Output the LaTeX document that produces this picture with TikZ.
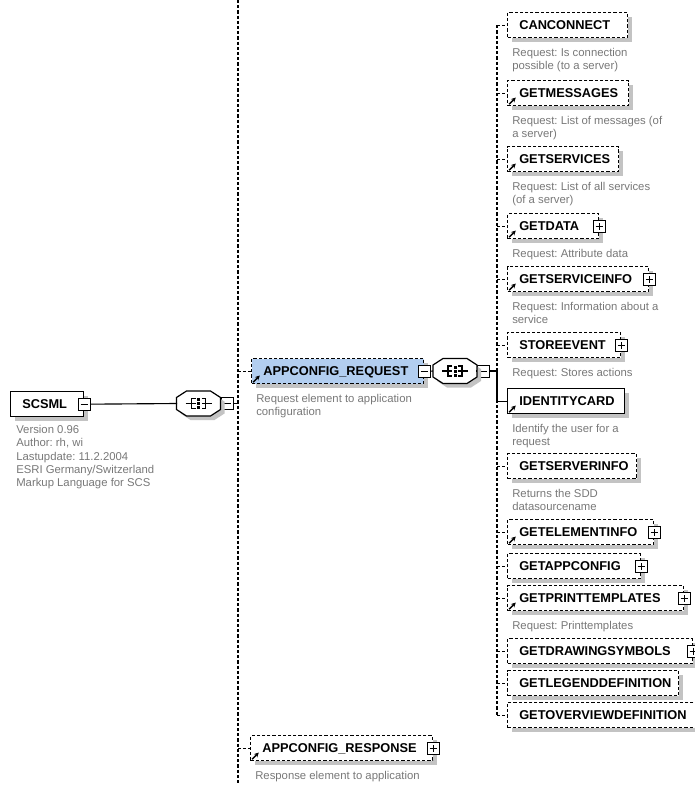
\documentclass[tikz,border=0pt]{standalone}
\usepackage{fontspec}
\setmainfont{Liberation Sans}
\usetikzlibrary{shadows,arrows.meta}
\frenchspacing

\definecolor{descgray}{RGB}{120,120,120}
\definecolor{selblue}{RGB}{178,206,240}
\definecolor{shadowgray}{RGB}{195,195,195}

\tikzset{
  dsh/.style={dash pattern=on 2.4pt off 1.5pt},
  elembox/.style={draw, fill=white, line width=1pt, anchor=north west, inner sep=0pt,
    minimum height=18.75pt,
    general shadow={fill=shadowgray, shadow xshift=3pt, shadow yshift=-3pt}},
  optbox/.style={elembox, dsh},
  ename/.style={anchor=base west, inner sep=0pt, font=\fontsize{9.6}{11}\selectfont\bfseries},
  desc/.style={anchor=north west, inner sep=0pt, align=left, text=descgray,
    font=\fontsize{8.5}{10}\selectfont},
  pmbox/.style={draw, fill=white, line width=0.75pt, minimum size=9pt, inner sep=0pt},
  minusbox/.style={pmbox, path picture={\draw[line width=0.75pt]
    ([xshift=1.8pt]path picture bounding box.west) -- ([xshift=-1.8pt]path picture bounding box.east);}},
  plusbox/.style={pmbox, path picture={\draw[line width=0.75pt]
    ([xshift=1.8pt]path picture bounding box.west) -- ([xshift=-1.8pt]path picture bounding box.east)
    ([yshift=1.8pt]path picture bounding box.south) -- ([yshift=-1.8pt]path picture bounding box.north);}},
  conn/.style={line width=0.85pt},
  refarrow/.style={-{Stealth[length=3.5pt,width=3.5pt]}, line width=1pt},
  seqnode/.style={draw=none, minimum width=31.5pt, minimum height=18pt, inner sep=0pt},
}

% element box: name, x, y(top), width(px), style, label
\newcommand\xelem[6]{%
  \node[#5, minimum width=#4*0.75pt] (#1) at (#2,#3) {};
  \node[ename] (#1-n) at ([xshift=9pt,yshift=-3.5pt]#1.west) {#6};
}
\newcommand\xdesc[2]{%
  \node[desc] (#1-d) at ([xshift=3.75pt,yshift=-7.3pt]#1.south west) {#2};
}
\newcommand\xarrow[1]{%
  \draw[refarrow] ([shift={(1.6pt,1.6pt)}]#1.south west) -- ++(5pt,5pt);
}
% sequence compositor drawn around node #1
\newcommand\xseq[1]{%
  \begin{scope}[shift={(#1.center)}]
    \fill[shadowgray, shift={(3pt,-3pt)}] (-22,-6) -- (-12,-12.5) -- (12,-12.5) -- (22,-6) -- (22,6) -- (12,12.5) -- (-12,12.5) -- (-22,6) -- cycle;
    \draw[fill=white, line width=0.9pt] (-22,-6) -- (-12,-12.5) -- (12,-12.5) -- (22,-6) -- (22,6) -- (12,12.5) -- (-12,12.5) -- (-22,6) -- cycle;
    \draw[line width=0.85pt] (-13,0) -- (-7,0) (-3,-5) -- (-7,-5) -- (-7,5) -- (-3,5) (-7,0) -- (-3,0);
    \draw[line width=0.85pt] (13,0) -- (7,0) (3,-5) -- (7,-5) -- (7,5) -- (3,5) (7,0) -- (3,0);
    \fill (-1.5,-5.5) rectangle (1.5,-2.5);
    \fill (-1.5,-1.5) rectangle (1.5,1.5);
    \fill (-1.5,2.5) rectangle (1.5,5.5);
  \end{scope}
}

\begin{document}
\begin{tikzpicture}[x=0.75pt, y=-0.75pt]
\useasboundingbox (0,0) rectangle (694,785);

% guide coordinates for the vertical connector lines
\coordinate (lv) at (238,0);
\coordinate (lvb) at (238,785);
\coordinate (rv) at (497,0);

% ---------- root ----------
\xelem{scsml}{10}{391}{73}{elembox}{SCSML}
\node[minusbox] (m0) at (scsml.east) {};
\node[desc] (scsml-d) at (16,425) {Version 0.96\\Author: rh, wi\\Lastupdate: 11.2.2004\\ESRI Germany/Switzerland\\Markup Language for SCS};
\node[seqnode] (seq1) at (198.5,403.5) {};
\node[minusbox] (m1) at (227.5,403.5) {};
\xseq{seq1}
\draw[conn] (m0.east) -- (seq1.west);
\draw[conn] (seq1.east) -- (m1.west);
\draw[conn] (m1.east) -- (lv |- m1.east);

% left vertical choice line
\draw[conn, dsh] (lv) -- (lvb);

% ---------- APPCONFIG_REQUEST ----------
\xelem{req}{251}{358}{172}{optbox, fill=selblue}{APPCONFIG\_REQUEST}
\xarrow{req}
\node[minusbox] (m2) at (req.east) {};
\xdesc{req}{Request element to application\\configuration}
\draw[conn, dsh] (lv |- req.west) -- (req.west);
\node[seqnode] (seq2) at (455,371) {};
\node[minusbox] (m3) at (483,371) {};
\draw[conn] (m2.east) -- (seq2.west);
\xseq{seq2}
\draw[conn] (seq2.east) -- (m3.west);

% ---------- APPCONFIG_RESPONSE ----------
\xelem{resp}{250}{735}{182}{optbox}{APPCONFIG\_RESPONSE}
\xarrow{resp}
\node[plusbox] (p0) at (resp.east) {};
\xdesc{resp}{Response element to application}
\draw[conn, dsh] (lv |- resp.west) -- (resp.west);

% ---------- children of the sequence ----------
\xelem{c1}{507}{12}{120}{optbox}{CANCONNECT}
\xdesc{c1}{Request: Is connection\\possible (to a server)}

\xelem{c2}{507}{80}{121}{optbox}{GETMESSAGES}
\xarrow{c2}
\xdesc{c2}{Request: List of messages (of\\a server)}

\xelem{c3}{507}{146}{111}{optbox}{GETSERVICES}
\xarrow{c3}
\xdesc{c3}{Request: List of all services\\(of a server)}

\xelem{c4}{507}{213}{91}{optbox}{GETDATA}
\xarrow{c4}
\node[plusbox] (p4) at (c4.east) {};
\xdesc{c4}{Request: Attribute data}

\xelem{c5}{507}{266}{141}{optbox}{GETSERVICEINFO}
\xarrow{c5}
\node[plusbox] (p5) at (c5.east) {};
\xdesc{c5}{Request: Information about a\\service}

\xelem{c6}{507}{332}{113}{optbox}{STOREEVENT}
\node[plusbox] (p6) at (c6.east) {};
\xdesc{c6}{Request: Stores actions}

\xelem{c7}{507}{388}{117}{elembox}{IDENTITYCARD}
\xarrow{c7}
\xdesc{c7}{Identify the user for a\\request}

\xelem{c8}{507}{453}{129}{optbox}{GETSERVERINFO}
\xdesc{c8}{Returns the SDD\\datasourcename}

\xelem{c9}{507}{519}{146}{optbox}{GETELEMENTINFO}
\xarrow{c9}
\node[plusbox] (p9) at (c9.east) {};

\xelem{c10}{507}{553}{133}{optbox}{GETAPPCONFIG}
\node[plusbox] (p10) at (c10.east) {};

\xelem{c11}{507}{585}{176}{optbox}{GETPRINTTEMPLATES}
\xarrow{c11}
\node[plusbox] (p11) at (c11.east) {};
\xdesc{c11}{Request: Printtemplates}

\xelem{c12}{507}{638}{185}{optbox}{GETDRAWINGSYMBOLS}
\node[plusbox] (p12) at (c12.east) {};

\xelem{c13}{507}{670}{171}{optbox}{GETLEGENDDEFINITION}

\xelem{c14}{507}{702}{200}{optbox}{GETOVERVIEWDEFINITION}

% right vertical line and stubs
\draw[conn, dsh] (rv |- c1.west) -- (rv |- c14.west);
\foreach \c in {c1,c2,c3,c4,c5,c6,c8,c9,c10,c11,c12,c13,c14}{
  \draw[conn, dsh] (rv |- \c.west) -- (\c.west);
}
\draw[conn] (m3.east) -- (rv |- m3.east) -- (rv |- c7.west) -- (c7.west);

\end{tikzpicture}
\end{document}
